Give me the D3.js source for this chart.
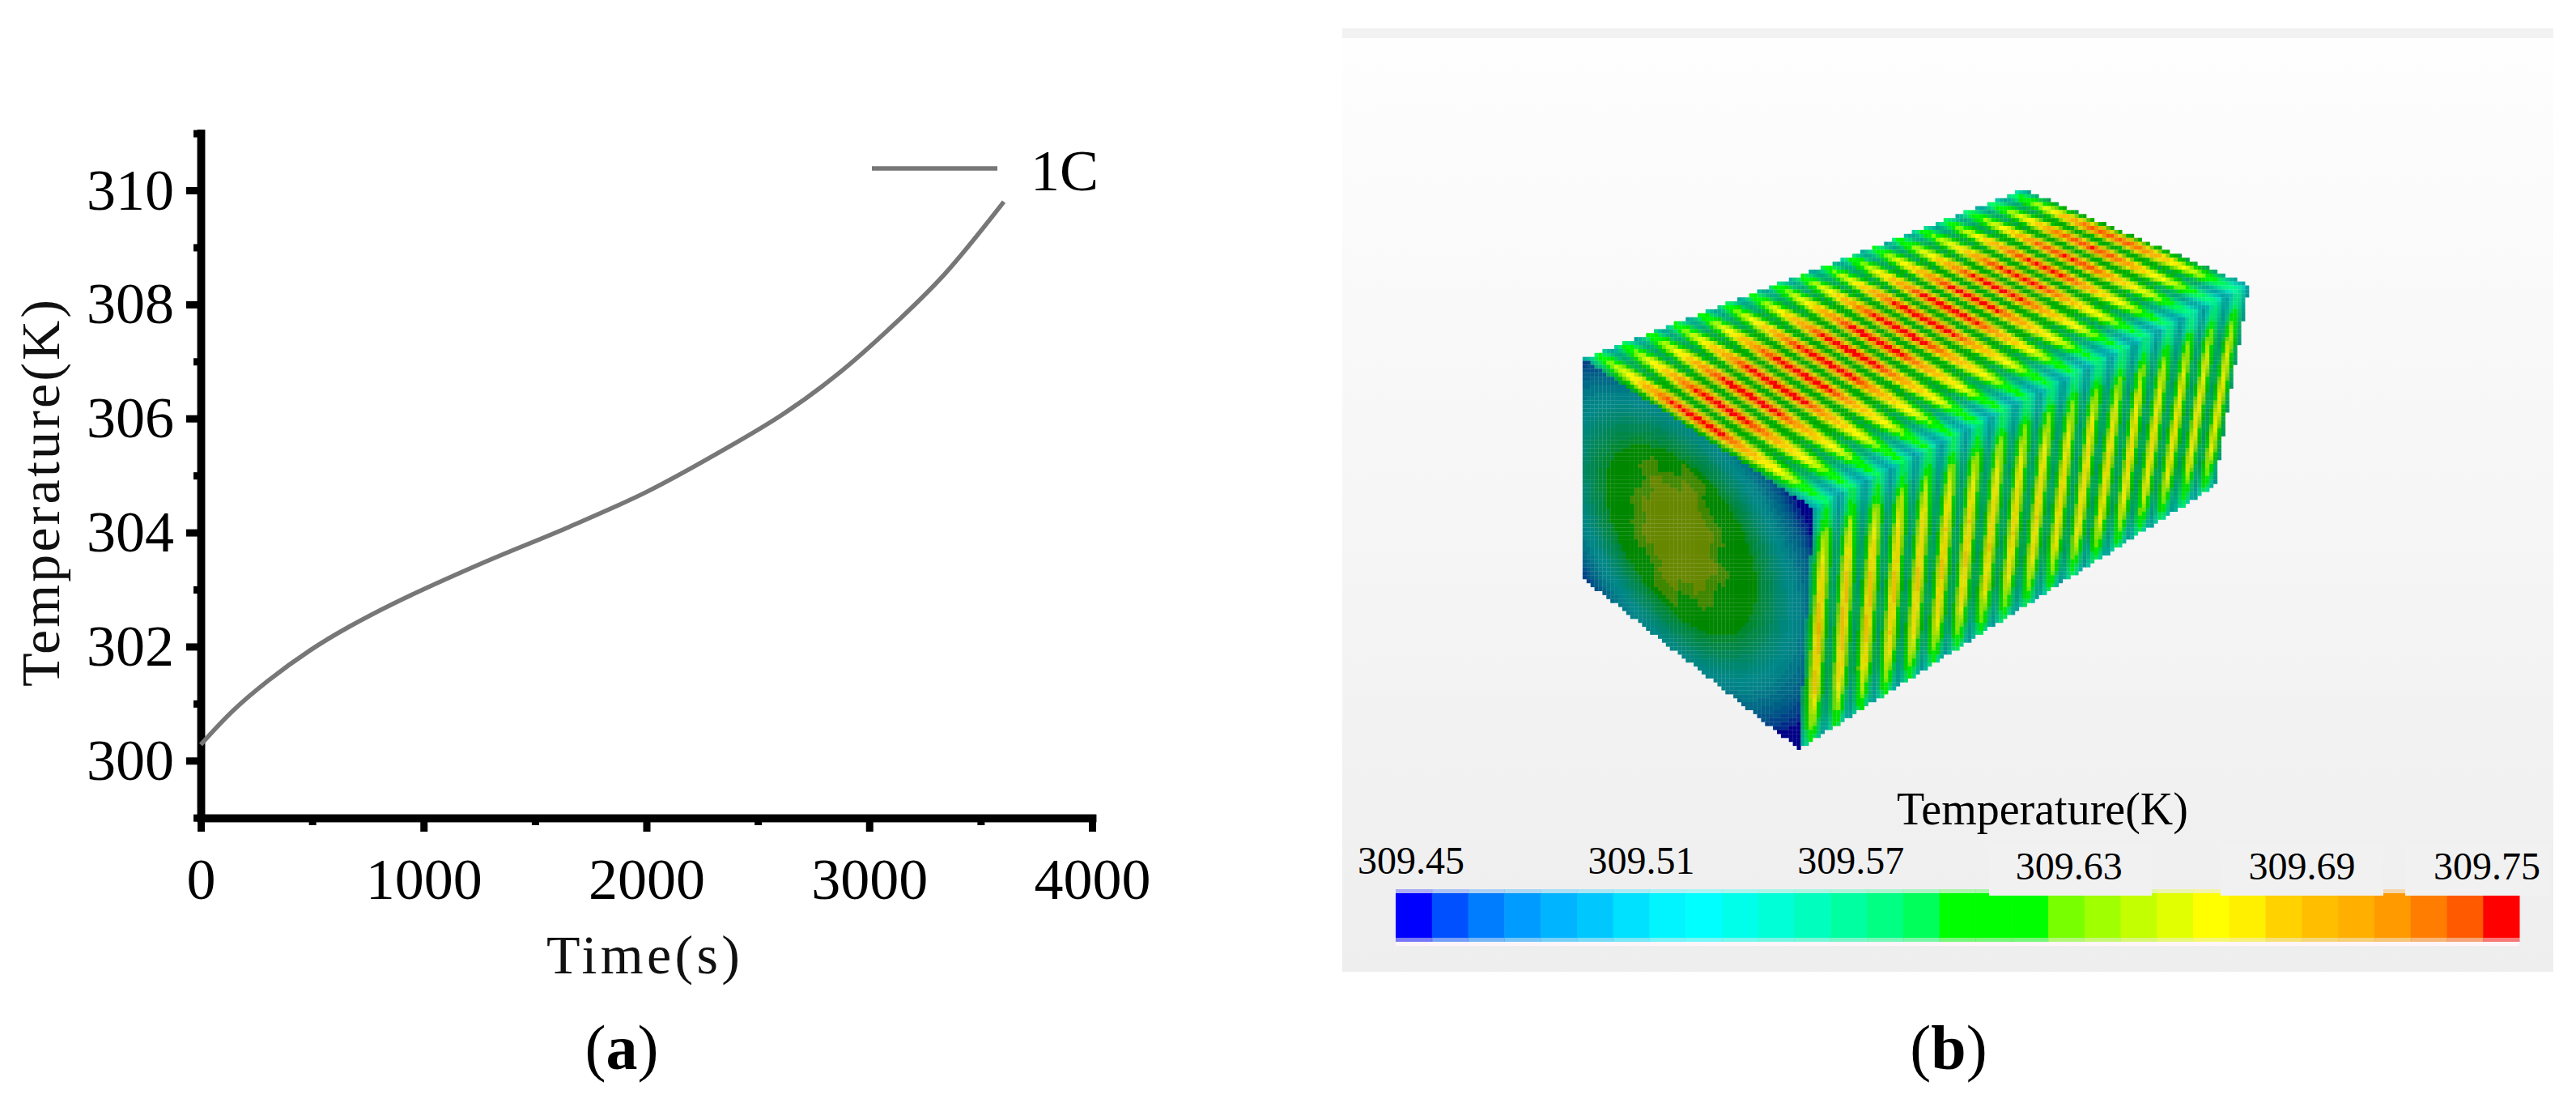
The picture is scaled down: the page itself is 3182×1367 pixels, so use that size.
<!DOCTYPE html>
<html><head><meta charset="utf-8">
<script src="https://cdn.jsdelivr.net/npm/d3@7/dist/d3.min.js"></script>
<style>html,body{margin:0;background:#fff}svg{display:block;font-family:"Liberation Serif",serif}</style>
</head><body><svg id="c" width="3182" height="1367"></svg>
<script>
// ---------- data: panel (a) ----------
const timeS = [0,146,302,493,667,916,1279,1642,2005,2369,2611,2853,3095,3338,3604];
const tempK = [300.28,300.88,301.40,301.94,302.35,302.85,303.49,304.08,304.72,305.50,306.07,306.76,307.59,308.53,309.80];
const yMajor = [300,302,304,306,308,310];
const yMinor = [299,301,303,305,307,309,311];
const xMajor = [0,1000,2000,3000,4000];
const xMinor = [500,1500,2500,3500];
// ---------- data: panel (b) ----------
const barTicks = [309.45,309.51,309.57,309.63,309.69,309.75];
const barColors = ["#0000ff","#0050ff","#007dff","#009bff","#00b4ff","#00c8ff","#00e1ff","#00f5ff","#00ffff","#00ffeb","#00ffd7","#00ffbe","#00ffa0","#00ff82","#00ff5a",
 "#00ff00","#00ff00","#00ff00",
 "#78ff00","#a0ff00","#c3ff00","#e1ff00","#ffff00","#fff000","#ffd200","#ffbe00","#ffaf00","#ff9b00","#ff7d00","#ff5a00","#ff0000"];
// estimated temperature field of the cube (K)
const plateCount = 18;
const cyclePhase = [0,.14,.28,.42,.5,.58,.72,.86,1];
const cycleLevel = [0,.22,.55,.92,1,.92,.55,.22,0];
const topV = [0,.08,.2,.32,.42,.55,.7,.82,.92,1];
const topPeakK = [309.60,309.648,309.702,309.75,309.76,309.755,309.70,309.666,309.612,309.594];
const topLowV = [0,.1,.3,.7,.85,.95,1];
const topLowK = [309.54,309.576,309.60,309.594,309.57,309.534,309.525];
const topFadeU = [0,.15,.55,.8,1];
const topFadeK = [.009,0,0,.01,.02];
const sideW = [0,.07,.15,.3,.55,.8,.93,1];
const sidePeakK = [309.594,309.604,309.652,309.684,309.696,309.684,309.64,309.60];
const sideLowW = [0,.08,.2,.8,.95,1];
const sideLowK = [309.528,309.54,309.558,309.57,309.545,309.53];
const frontR = [0,1,1.25,1.5,1.8,2.1];
const frontK = [309.612,309.60,309.57,309.534,309.50,309.456];
const coreK = 309.645, coreRimK = 309.633;
const coreLobes = [1,.88,1.06,.86,1.1,.9,1,.85,1.05,.9,1,.84,1.1,.9,1.05,.94];

// ---------- layout ----------
const svg = d3.select("#c");
const x = d3.scaleLinear().domain([0,4000]).range([248,1349]);
const y = d3.scaleLinear().domain([299,311]).range([1009.7,164.6]);
const serif = '"Liberation Serif",serif';

// panel (a)
const gx = svg.append("g").attr("transform","translate(0,1010)");
gx.call(d3.axisBottom(x).tickValues(xMajor).tickSize(17).tickSizeOuter(0).tickPadding(32).tickFormat(d3.format("d")));
const gx2 = svg.append("g").attr("transform","translate(0,1010)");
gx2.call(d3.axisBottom(x).tickValues(xMinor).tickSize(9).tickSizeOuter(0).tickFormat(""));
const gy = svg.append("g").attr("transform","translate(248,0)");
gy.call(d3.axisLeft(y).tickValues(yMajor).tickSize(18).tickSizeOuter(0).tickPadding(15).tickFormat(d3.format("d")));
const gy2 = svg.append("g").attr("transform","translate(248,0)");
gy2.call(d3.axisLeft(y).tickValues(yMinor).tickSize(9).tickSizeOuter(0).tickFormat(""));
[gx,gx2,gy,gy2].forEach(g=>{
  g.selectAll("path.domain").attr("stroke","#000").attr("stroke-width",9.5).attr("stroke-linecap","square");
  g.selectAll(".tick line").attr("stroke","#000").attr("stroke-width",9);
  g.selectAll("text").attr("font-size",72).attr("font-family",serif).attr("fill","#000");
});
svg.append("path").datum(timeS.map((t,i)=>[t,tempK[i]]))
  .attr("fill","none").attr("stroke","#777777").attr("stroke-width",5.5)
  .attr("d",d3.line().x(d=>x(d[0])).y(d=>y(d[1])).curve(d3.curveCatmullRom));
svg.append("line").attr("x1",1077).attr("x2",1232).attr("y1",208).attr("y2",208).attr("stroke","#777777").attr("stroke-width",5.5);
svg.append("text").attr("x",1273).attr("y",235).attr("font-size",72).text("1C");
svg.append("text").attr("x",675).attr("y",1202).attr("font-size",68).attr("textLength",239).attr("lengthAdjust","spacing").attr("fill","#111").text("Time(s)");
svg.append("text").attr("transform","translate(73,848) rotate(-90)").attr("font-size",68).attr("textLength",478).attr("lengthAdjust","spacing").attr("fill","#111").text("Temperature(K)");
function caption(cx,base,l){
  const t=svg.append("text").attr("x",cx).attr("y",base).attr("text-anchor","middle").attr("font-size",78);
  t.append("tspan").text("(");t.append("tspan").attr("font-weight","bold").text(l);t.append("tspan").text(")");
}
caption(768,1320,"a");caption(2407,1320,"b");

// panel (b) background
const defs = svg.append("defs");
const grad = defs.append("linearGradient").attr("id","bg").attr("x1",0).attr("x2",0).attr("y1",0).attr("y2",1);
grad.append("stop").attr("offset",0).attr("stop-color","#fefefe");
grad.append("stop").attr("offset",1).attr("stop-color","#eeeeee");
defs.append("filter").attr("id","soft").attr("x","-5%").attr("y","-5%").attr("width","110%").attr("height","110%")
  .append("feGaussianBlur").attr("stdDeviation",0.7);
svg.append("rect").attr("x",1658).attr("y",35).attr("width",1496).attr("height",1165).attr("fill","url(#bg)");
svg.append("rect").attr("x",1658).attr("y",35).attr("width",1496).attr("height",12).attr("fill","#f2f2f2");

// cube
const A=[1955,443],B=[2240,628],C=[1955,714],D=[2222,925],E=[2500,234],F=[2778,352],G=[2736,600];
const colorOf = d3.scaleQuantize().domain([barTicks[0],barTicks[5]]).range(barColors);
const lin=(d,r)=>d3.scaleLinear().domain(d).range(r).clamp(true);
const cycle=lin(cyclePhase,cycleLevel), shadeAt=lin([0,.55,.92,1],[.64,.88,.96,1]);
const topPeak=lin(topV,topPeakK), topLow=lin(topLowV,topLowK), topFade=lin(topFadeU,topFadeK);
const sidePeak=lin(sideW,sidePeakK), sideLow=lin(sideLowW,sideLowK);
const frontT=lin(frontR,frontK);
const plateAt=f=>{const i=plateCount*(f-.08*f*(1-f));return cycle(i-Math.floor(i));};
function shadeColor(T,s){const c=d3.rgb(colorOf(T));return d3.rgb(c.r*s,c.g*s,c.b*s).formatHex();}
function inv(P00,P10,P01,P11,px,py){
  let s=.5,t=.5;
  for(let i=0;i<6;i++){
    const fx=P00[0]*(1-s)*(1-t)+P10[0]*s*(1-t)+P01[0]*(1-s)*t+P11[0]*s*t-px;
    const fy=P00[1]*(1-s)*(1-t)+P10[1]*s*(1-t)+P01[1]*(1-s)*t+P11[1]*s*t-py;
    const xs=(P10[0]-P00[0])*(1-t)+(P11[0]-P01[0])*t, xt=(P01[0]-P00[0])*(1-s)+(P11[0]-P10[0])*s;
    const ys=(P10[1]-P00[1])*(1-t)+(P11[1]-P01[1])*t, yt=(P01[1]-P00[1])*(1-s)+(P11[1]-P10[1])*s;
    const det=xs*yt-xt*ys; s-=(fx*yt-fy*xt)/det; t-=(fy*xs-fx*ys)/det;
  }
  return (s>=0&&s<=1&&t>=0&&t<=1)?[s,t]:null;
}
function frontFill(a,b){
  const da=a-.43, db=b-.49, core=Math.hypot(da/.21,db/.29);
  const ang=(Math.atan2(db,da)+Math.PI)/(2*Math.PI);
  const lobe=coreLobes[Math.floor(ang*coreLobes.length)%coreLobes.length];
  if(core<=lobe*.78) return shadeColor(coreK,.53);
  if(core<=lobe) return shadeColor(coreRimK,.53);
  return shadeColor(frontT(Math.hypot((a-.44)/.325,(b-.5)/.33)),.53);
}
const cell=4.9, cells=[];
for(let py=230;py<930;py+=cell)for(let px=1950;px<2785;px+=cell){
  const cx=px+cell/2,cy=py+cell/2;let h,fill=null;
  if(h=inv(A,B,C,D,cx,cy)){
    fill=frontFill(h[0],h[1]);
  }else if(h=inv(A,E,B,F,cx,cy)){
    const p=plateAt(h[0]),lo=topLow(h[1]),hi=topPeak(h[1])-topFade(h[0]);
    fill=shadeColor(lo+(hi-lo)*p,shadeAt(p));
  }else if(h=inv(B,F,D,G,cx,cy)){
    const p=plateAt(h[0]),lo=sideLow(h[1]),hi=sidePeak(h[1])-.02*h[0];
    fill=shadeColor(lo+(hi-lo)*p,shadeAt(p)*.92);
  }
  if(fill)cells.push({x:px,y:py,fill});
}
svg.append("g").attr("filter","url(#soft)").selectAll("rect").data(cells).join("rect")
  .attr("x",d=>d.x).attr("y",d=>d.y).attr("width",cell+.2).attr("height",cell+.2).attr("fill",d=>d.fill);

// colour bar
const bar = d3.scaleBand().domain(d3.range(barColors.length)).range([1724,3112]);
const gb = svg.append("g");
gb.selectAll("rect.pt").data(barColors).join("rect").attr("class","pt").attr("x",(d,i)=>bar(i)).attr("y",1098).attr("width",bar.bandwidth()+.5).attr("height",5).attr("fill",d=>d).attr("opacity",.28);
gb.selectAll("rect.pb").data(barColors).join("rect").attr("class","pb").attr("x",(d,i)=>bar(i)).attr("y",1158).attr("width",bar.bandwidth()+.5).attr("height",5).attr("fill",d=>d).attr("opacity",.5);
gb.append("rect").attr("x",1724).attr("y",1163).attr("width",1388).attr("height",5).attr("fill","#fdf5fa");
gb.selectAll("rect.b").data(barColors).join("rect").attr("class","b").attr("x",(d,i)=>bar(i)).attr("y",1103).attr("width",bar.bandwidth()+.5).attr("height",55).attr("fill",d=>d);
// label patches that cut into the bar top
const tickScale = d3.scaleLinear().domain([barTicks[0],barTicks[5]]).range([1724,3112]);
const patchL=[2457,2743,2971], patchR=[2658,2944,3150];
patchL.forEach((l,i)=>svg.append("rect").attr("x",l).attr("y",1040).attr("width",patchR[i]-l).attr("height",66).attr("fill","#f1f1f1"));
const labelNudge=[19,26,7,-1,9,-40], labelBase=[1079,1079,1079,1086,1086,1086];
svg.append("g").selectAll("text").data(barTicks).join("text")
  .attr("x",(d,i)=>tickScale(d)+labelNudge[i]).attr("y",(d,i)=>labelBase[i])
  .attr("text-anchor","middle").attr("font-size",48).text(d=>d.toFixed(2));
svg.append("text").attr("x",2343).attr("y",1018).attr("font-size",56).text("Temperature(K)");
</script></body></html>
